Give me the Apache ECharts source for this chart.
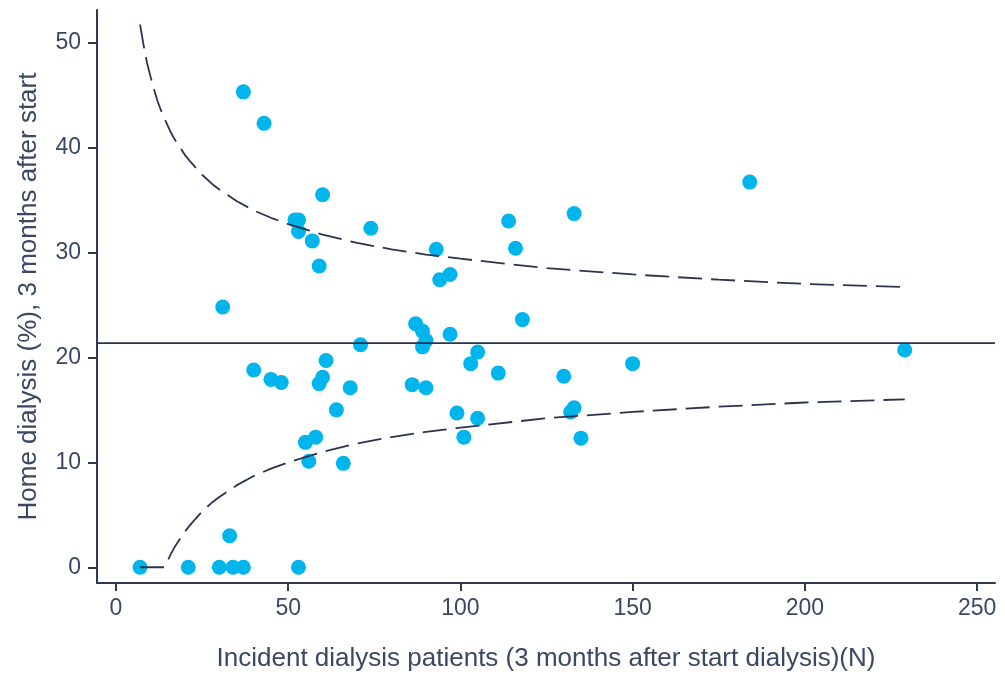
<!DOCTYPE html>
<html>
<head>
<meta charset="utf-8">
<script src="https://cdn.jsdelivr.net/npm/echarts@6/dist/echarts.min.js"></script>
<style>
html,body{margin:0;padding:0;background:#fff;}
#chart{width:1005px;height:684px;}
</style>
</head>
<body>
<div id="chart"></div>
<script>
// Units: incident dialysis patients (N) and home dialysis share (%)
const pointsN   = [7,21,30,34,37,53,33, 31,37,43, 40,45,48, 52,53,53,57,59,60, 74,
                   61,60,59,68,64,58,55,56,66, 71,
                   93,94,97,114,116,133, 118,87,89,90,89,97,
                   105,103,111,130,150, 86,90,99,105,133,132,101,135, 184,229];
const pointsPct = [0,0,0,0,0,0,3.0, 24.8,45.3,42.3, 18.8,17.9,17.6, 33.1,33.1,32.0,31.1,28.7,35.5, 32.3,
                   19.7,18.1,17.5,17.1,15.0,12.4,11.9,10.1,9.9, 21.2,
                   30.3,27.4,27.9,33.0,30.4,33.7, 23.6,23.2,22.5,21.6,21.0,22.2,
                   20.5,19.4,18.5,18.2,19.4, 17.4,17.1,14.7,14.2,15.2,14.8,12.4,12.3, 36.7,20.7];
const meanPct = 21.35;
const limitN     = [7,8,9,10,11,12,13,14,15,16,17,18,20,22,25,28,30,35,40,45,50,60,70,80,90,100,125,150,175,200,229];
const upperLimit = [51.7,49.8,48.1,46.8,45.6,44.5,43.6,42.8,42.1,41.4,40.8,40.3,39.3,38.5,37.4,36.5,36.0,34.9,34.0,33.3,32.7,31.7,30.9,30.3,29.8,29.4,28.5,27.9,27.4,27.0,26.7];
const lowerLimit = [0,0,0,0,0,0,0,0,0.6,1.3,1.9,2.4,3.4,4.2,5.3,6.2,6.7,7.8,8.7,9.4,10.0,11.0,11.8,12.4,12.9,13.3,14.2,14.8,15.3,15.7,16.0];
const xTicks = [0,50,100,150,200,250];
const yTicks = [0,10,20,30,40,50];
const xTitle = 'Incident dialysis patients (3 months after start dialysis)(N)';
const yTitle = 'Home dialysis (%), 3 months after start';

const axisColor = '#2f3953';
const textColor = '#3b4763';
const lineColor = '#2b3350';
const font = 'Liberation Sans, Arial, sans-serif';

const chart = echarts.init(document.getElementById('chart'), null, {renderer: 'canvas'});
chart.setOption({
  animation: false,
  backgroundColor: '#ffffff',
  grid: {left: 97, right: 10, top: 10, bottom: 101, containLabel: false},
  xAxis: {
    type: 'value', min: -5.5, max: 255.2,
    name: xTitle, nameLocation: 'middle', nameGap: 63,
    nameTextStyle: {color: textColor, fontSize: 26, fontFamily: font},
    axisLine: {show: true, onZero: false, lineStyle: {color: axisColor, width: 2}},
    axisTick: {show: true, customValues: xTicks, length: 8, lineStyle: {color: axisColor, width: 2}},
    axisLabel: {customValues: xTicks, color: textColor, fontSize: 23, fontFamily: font, margin: 14},
    splitLine: {show: false}
  },
  yAxis: {
    type: 'value', min: -1.5, max: 53.1,
    name: yTitle, nameLocation: 'middle', nameGap: 55, nameRotate: 90,
    nameTextStyle: {color: textColor, fontSize: 26, fontFamily: font},
    axisLine: {show: true, onZero: false, lineStyle: {color: axisColor, width: 2}},
    axisTick: {show: true, customValues: yTicks, length: 9, lineStyle: {color: axisColor, width: 2}},
    axisLabel: {customValues: yTicks, color: textColor, fontSize: 23, fontFamily: font, margin: 16},
    splitLine: {show: false}
  },
  series: [
    {
      type: 'scatter', z: 2,
      data: pointsN.map((n, i) => [n, pointsPct[i]]),
      symbol: 'circle', symbolSize: 15,
      itemStyle: {color: '#00b5ec', opacity: 1}
    },
    {
      type: 'line', z: 3, showSymbol: false, symbol: 'none',
      data: [[-5.5, meanPct], [255.2, meanPct]],
      lineStyle: {color: lineColor, width: 1.8, type: 'solid'}
    },
    {
      type: 'line', z: 3, showSymbol: false, symbol: 'none', smooth: false,
      data: limitN.map((n, i) => [n, upperLimit[i]]),
      lineStyle: {color: lineColor, width: 1.8, type: [24, 9]}
    },
    {
      type: 'line', z: 3, showSymbol: false, symbol: 'none', smooth: false,
      data: limitN.map((n, i) => [n, lowerLimit[i]]),
      lineStyle: {color: lineColor, width: 1.8, type: [24, 9]}
    }
  ]
});
</script>
</body>
</html>
